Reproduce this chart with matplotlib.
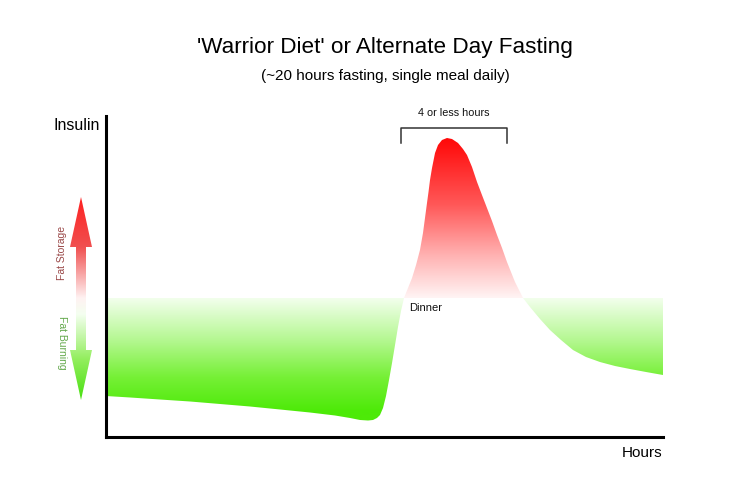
import numpy as np
import matplotlib
matplotlib.use("Agg")
import matplotlib.pyplot as plt
from matplotlib.path import Path
from matplotlib.patches import Polygon
from matplotlib.colors import LinearSegmentedColormap

plt.rcParams['font.family'] = ['Liberation Sans', 'DejaVu Sans']

# ---- data (insulin level over a day, arbitrary units, x = % of day) ----
hours = [0.0, 4.31, 9.69, 15.08, 20.47, 25.85, 31.24, 36.62, 41.11, 43.81,
         45.60, 47.04, 47.94, 48.65, 49.19, 49.73, 50.27, 50.81, 51.35, 51.89,
         52.42, 52.96, 53.50, 54.22, 54.94, 55.66, 56.37, 56.91, 57.27, 57.63,
         57.90, 58.17, 58.53, 59.07, 59.61, 60.32, 61.22, 62.12, 63.20, 64.09,
         64.81, 65.71, 66.61, 67.50, 68.40, 69.30, 70.20, 71.10, 71.99, 72.71,
         73.43, 74.15, 74.87, 76.12, 77.92, 79.71, 81.69, 83.84, 86.18, 88.69,
         91.38, 94.08, 96.95, 100.0]
insulin = [12.77, 12.31, 11.68, 11.06, 10.28, 9.50, 8.57, 7.63, 6.70, 5.92,
           5.30, 5.14, 5.30, 5.92, 6.85, 9.03, 12.77, 17.76, 23.05, 28.66,
           34.27, 39.25, 43.30, 46.42, 49.53, 53.58, 58.26, 63.55, 68.22, 72.90,
           76.32, 80.06, 83.80, 88.47, 90.97, 92.52, 93.15, 92.83, 91.59, 89.72,
           87.85, 84.11, 79.44, 75.39, 71.34, 67.29, 62.93, 58.88, 54.52, 51.40,
           48.29, 45.79, 43.30, 40.50, 36.76, 33.33, 30.22, 27.10, 24.92, 23.36,
           22.12, 21.18, 20.25, 19.31]
baseline = 43.3
meal_window = [53.0, 72.0]

title = "'Warrior Diet' or Alternate Day Fasting"
subtitle = "(~20 hours fasting, single meal daily)"

W, H = 736, 490
fig = plt.figure(figsize=(W / 100, H / 100), dpi=100)
ax = fig.add_axes([106 / W, 1 - 437 / H, (663 - 106) / W, (437 - 116) / H])
ax.set_xlim(0, 100)
ax.set_ylim(0, 100)
for s in ['top', 'right']:
    ax.spines[s].set_visible(False)
for s in ['left', 'bottom']:
    ax.spines[s].set_linewidth(2.2)
    ax.spines[s].set_color('black')
ax.set_xticks([])
ax.set_yticks([])

x = np.array(hours)
y = np.array(insulin)
grad = np.linspace(0, 1, 256).reshape(-1, 1)

# green region (below baseline)
gcoll = ax.fill_between(x, y, baseline, where=y <= baseline, interpolate=True,
                        color='none', lw=0)
gpath = Path.make_compound_path(*gcoll.get_paths())
green_cmap = LinearSegmentedColormap.from_list(
    'g', [(0.0, '#4DEA08'), (0.3, '#76F036'), (0.65, '#B8F896'), (1.0, '#F2FFEC')])
gy0 = 8.0
im = ax.imshow(np.clip((grad * baseline - gy0) / (baseline - gy0), 0, 1),
               extent=[0, 100, 0, baseline], origin='lower', aspect='auto',
               cmap=green_cmap, vmin=0, vmax=1, zorder=1)
im.set_clip_path(gpath, transform=ax.transData)

# red region (above baseline)
rcoll = ax.fill_between(x, y, baseline, where=y >= baseline, interpolate=True,
                        color='none', lw=0)
rpath = Path.make_compound_path(*rcoll.get_paths())
red_cmap = LinearSegmentedColormap.from_list(
    'r', [(0.0, '#FFF4F4'), (0.25, '#FFB2B2'), (0.55, '#FF5858'), (0.9, '#FF1010'),
          (1.0, '#FF0000')])
im2 = ax.imshow(grad, extent=[0, 100, baseline, 96], origin='lower', aspect='auto',
                cmap=red_cmap, vmin=0, vmax=1, zorder=1)
im2.set_clip_path(rpath, transform=ax.transData)

# bracket for the eating window
ax.plot([meal_window[0], meal_window[0], meal_window[1], meal_window[1]],
        [91.6, 96.3, 96.3, 91.6], color='#333333', lw=1.1, clip_on=False)
ax.text(np.mean(meal_window), 100.9, '4 or less hours', ha='center', va='center',
        fontsize=7.8, color='#111111', clip_on=False)
ax.text(54.4, 40.2, 'Dinner', ha='left', va='center', fontsize=8, color='#111111')

# titles and axis labels
fig.text(385 / W, 1 - 47 / H, title, ha='center', va='center', fontsize=16.2)
fig.text(385 / W, 1 - 76 / H, subtitle, ha='center', va='center', fontsize=11)
fig.text(100 / W, 1 - 126 / H, 'Insulin', ha='right', va='center', fontsize=11.5)
fig.text(662 / W, 1 - 453 / H, 'Hours', ha='right', va='center', fontsize=11)

# double-headed gradient arrow (pixel overlay)
ov = fig.add_axes([0, 0, 1, 1], zorder=-1)
ov.set_xlim(0, W)
ov.set_ylim(H, 0)
ov.axis('off')
cx = 81
arrow = Polygon([(cx, 197), (cx + 11, 247), (cx + 5, 247), (cx + 5, 350), (cx + 11, 350),
                 (cx, 400), (cx - 11, 350), (cx - 5, 350), (cx - 5, 247), (cx - 11, 247)],
                closed=True, facecolor='none', edgecolor='none')
ov.add_patch(arrow)
arrow_cmap = LinearSegmentedColormap.from_list(
    'a', [(0.0, '#FF2020'), (0.25, '#F05050'), (0.50, '#FFF2F2'), (0.58, '#F4FFF0'),
          (0.80, '#93EE5E'), (1.0, '#48E010')])
ag = np.linspace(0, 1, 256).reshape(-1, 1)
aim = ov.imshow(ag, extent=[cx - 12, cx + 12, 400, 197], origin='upper', aspect='auto',
                cmap=arrow_cmap, vmin=0, vmax=1)
aim.set_clip_path(arrow)
ov.text(62, 253, 'Fat Storage', rotation=90, ha='center', va='center',
        fontsize=7.5, color='#9A4848')
ov.text(62, 343, 'Fat Burning', rotation=270, ha='center', va='center',
        fontsize=7.5, color='#62A84A')

fig.savefig('out.png', dpi=100)
